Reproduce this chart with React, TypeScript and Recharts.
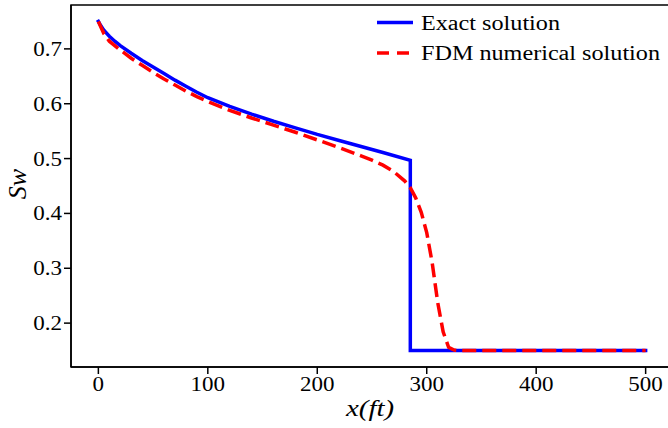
import { LineChart, Line, XAxis, YAxis, ReferenceArea } from "recharts";

const exactX = [0, 2, 5, 10, 15, 20, 30, 40, 50, 60, 70, 80, 90, 100, 120, 140, 160, 180, 200, 220, 240, 260, 285, 285, 500];
const exactSw = [0.75, 0.743, 0.734, 0.723, 0.714, 0.706, 0.692, 0.679, 0.667, 0.655, 0.643, 0.632, 0.621, 0.611, 0.595, 0.581, 0.568, 0.556, 0.544, 0.533, 0.522, 0.511, 0.497, 0.15, 0.15];

const fdmX = [0, 5, 10, 20, 30, 40, 50, 60, 70, 80, 90, 100, 120, 140, 160, 180, 200, 220, 240, 250, 260, 270, 280, 285, 290, 295, 300, 305, 310, 315, 320, 325, 330, 500];
const fdmSw = [0.75, 0.728, 0.714, 0.698, 0.683, 0.67, 0.657, 0.645, 0.634, 0.623, 0.613, 0.604, 0.588, 0.574, 0.561, 0.548, 0.534, 0.52, 0.505, 0.497, 0.488, 0.476, 0.459, 0.447, 0.428, 0.402, 0.365, 0.31, 0.238, 0.184, 0.156, 0.151, 0.15, 0.15];

const xTicks = [0, 100, 200, 300, 400, 500];
const yTicks = [0.2, 0.3, 0.4, 0.5, 0.6, 0.7];

const exactData = exactX.map((x, i) => ({ x, sw: exactSw[i] }));
const fdmData = fdmX.map((x, i) => ({ x, sw: fdmSw[i] }));

const FONT = "Times New Roman";
const SX = 1.15; // source glyphs are drawn a little wider than the local Times metric font

function XTick(props: any) {
  const { x, y, payload } = props;
  const s = String(payload.value);
  return (
    <text x={x} y={y + 15} textAnchor="middle" fontFamily={FONT} fontSize={20} fill="#000"
      textLength={s.length * 10 * SX} lengthAdjust="spacingAndGlyphs">
      {s}
    </text>
  );
}

function YTick(props: any) {
  const { x, y, payload } = props;
  return (
    <text x={x} y={y + 7} textAnchor="end" fontFamily={FONT} fontSize={20} fill="#000"
      textLength={25 * SX} lengthAdjust="spacingAndGlyphs">
      {Number(payload.value).toFixed(1)}
    </text>
  );
}

export default function App() {
  return (
    <div style={{ position: "absolute", left: 0, top: 0, width: 668, height: 428, overflow: "hidden", background: "#fff" }}>
      <LineChart width={680} height={428} margin={{ top: 5, right: 7, left: 0, bottom: 0 }}>
        <XAxis
          dataKey="x"
          type="number"
          domain={[-25, 525]}
          ticks={xTicks}
          allowDataOverflow
          height={61}
          tickSize={7}
          tickMargin={2}
          stroke="#000"
          strokeWidth={1.5}
          tick={<XTick />}
          label={{
            content: () => (
              <text x={370} y={416} textAnchor="middle" fontFamily={FONT} fontStyle="italic" fontSize={23} fill="#000"
                textLength={48} lengthAdjust="spacingAndGlyphs">x(ft)</text>
            ),
          }}
        />
        <YAxis
          type="number"
          domain={[0.12, 0.78]}
          ticks={yTicks}
          allowDataOverflow
          width={71}
          tickSize={7}
          tickMargin={2}
          stroke="#000"
          strokeWidth={1.5}
          tick={<YTick />}
          label={{
            content: () => (
              <g transform="translate(26,184)">
                <text x={0} y={0} transform="rotate(-90)" textAnchor="middle" fontFamily={FONT} fontStyle="italic" fontSize={26} fill="#000">Sw</text>
              </g>
            ),
          }}
        />
        <ReferenceArea x1={-25} x2={525} y1={0.12} y2={0.78} fill="none" stroke="#000" strokeWidth={1.5} ifOverflow="visible" />
        <Line
          data={exactData}
          dataKey="sw"
          type="linear"
          stroke="#0000ff"
          strokeWidth={3.5}
          strokeLinecap="square"
          dot={false}
          isAnimationActive={false}
        />
        <Line
          data={fdmData}
          dataKey="sw"
          type="linear"
          stroke="#ff0000"
          strokeWidth={3.5}
          strokeDasharray="14 6"
          dot={false}
          isAnimationActive={false}
        />
      </LineChart>
      <svg width={300} height={70} style={{ position: "absolute", left: 370, top: 0 }}>
        <line x1={7} x2={43} y1={22.5} y2={22.5} stroke="#0000ff" strokeWidth={3.5} />
        <text x={51} y={29.5} fontFamily={FONT} fontSize={20} fill="#000" textLength={139} lengthAdjust="spacingAndGlyphs">Exact solution</text>
        <line x1={7} x2={40} y1={53} y2={53} stroke="#ff0000" strokeWidth={3.5} strokeDasharray="12 8" />
        <text x={51} y={60} fontFamily={FONT} fontSize={20} fill="#000" textLength={239} lengthAdjust="spacingAndGlyphs">FDM numerical solution</text>
      </svg>
    </div>
  );
}
